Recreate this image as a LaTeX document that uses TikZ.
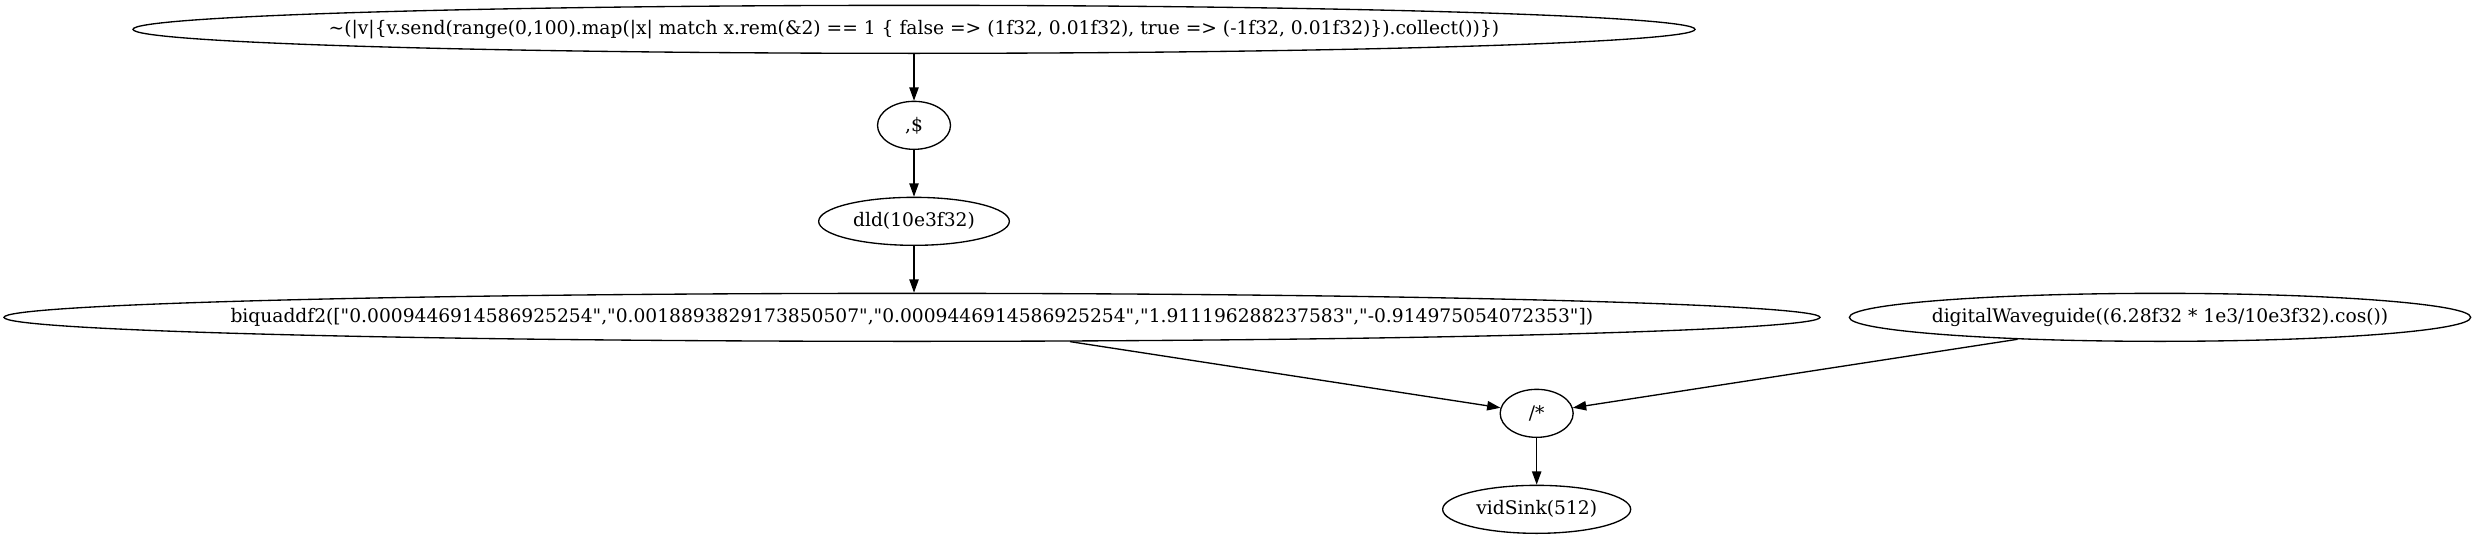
\documentclass[tikz,border=0pt]{standalone}
\usepackage{fontspec}
\setmainfont{DejaVu Serif}[Ligatures=TeXOff]
\usetikzlibrary{shapes.geometric,arrows.meta}
\begin{document}
\begin{tikzpicture}[x=1pt,y=-1pt,
  gv/.style={ellipse, draw, line width=1pt, inner sep=0pt, minimum height=36pt,
    font=\fontsize{14}{16}\selectfont},
  edge/.style={line width=1pt, -{Triangle[length=10pt,width=7pt]}}]
\useasboundingbox (0,0) rectangle (1859.25,404.25);
\node[gv, minimum width=1171.5pt] (src) at (685.5,22) {\makebox[0pt]{\textasciitilde(|v|\{v.send(range(0,100).map(|x| match x.rem(\&2) == 1 \{ false => (1f32, 0.01f32), true => (-1f32, 0.01f32)\}).collect())\})}};
\node[gv, minimum width=54.75pt] (cd) at (685.5,94) {\makebox[0pt]{,\$}};
\node[gv, minimum width=143pt] (dld) at (685.5,166) {\makebox[0pt]{dld(10e3f32)}};
\node[gv, minimum width=1362pt] (biq) at (684,238) {\makebox[0pt]{biquaddf2(["0.0009446914586925254","0.0018893829173850507","0.0009446914586925254","1.911196288237583","-0.914975054072353"])}};
\node[gv, minimum width=466pt] (dw) at (1620,238) {\makebox[0pt]{digitalWaveguide((6.28f32 * 1e3/10e3f32).cos())}};
\node[gv, minimum width=54.75pt] (mul) at (1152.5,310) {\makebox[0pt]{/*}};
\node[gv, minimum width=141pt] (vs) at (1152.5,382) {\makebox[0pt]{vidSink(512)}};
\draw[edge] (src) -- (cd);
\draw[edge] (cd) -- (dld);
\draw[edge] (dld) -- (dld.center |- biq.north);
\draw[edge] (biq) -- (mul);
\draw[edge] (dw) -- (mul);
\draw[edge] (mul) -- (vs);
\end{tikzpicture}
\end{document}
